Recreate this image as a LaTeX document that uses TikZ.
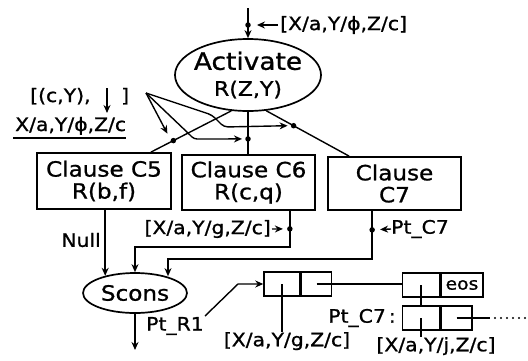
\documentclass[tikz,border=0pt]{standalone}
\usepackage{fontspec}
\setmainfont{DejaVu Sans}[FakeStretch=1.1, FakeBold=1]
\usetikzlibrary{shapes.geometric,calc,arrows.meta}
\begin{document}
\begin{tikzpicture}[x=1pt,y=-1pt,
  every node/.style={font=\fontsize{21}{22}\selectfont, inner sep=0pt},
  box/.style={draw, line width=1.7pt, align=center},
  oval/.style={draw, ellipse, line width=1.7pt, align=center},
  lbl/.style={font=\fontsize{18.5}{20}\selectfont},
  cell/.style={draw, line width=1.5pt, minimum height=24pt},
  conn/.style={line width=1.4pt},
  arr/.style={conn, -{Stealth[length=8pt,width=7pt]}},
  dot/.style={circle, fill, minimum size=5.5pt, inner sep=0pt},
]
\useasboundingbox (0,0) rectangle (528,360);

% main nodes
\node[oval, minimum width=146pt, minimum height=72pt] (act) at (248,75)
  {\makebox[0pt]{\fontsize{24}{26}\selectfont Activate}\\[4pt]\makebox[0pt]{\fontsize{20}{22}\selectfont R(Z,Y)}};
\node[box, minimum width=134pt, minimum height=56pt] (c5) at (104,181) {Clause C5\\R(b,f)};
\node[box, minimum width=133pt, minimum height=55pt] (c6) at (248.5,182.5) {Clause C6\\R(c,q)};
\node[box, minimum width=133pt, minimum height=53pt] (c7) at (394.5,183.5) {Clause\\C7};
\node[oval, minimum width=104pt, minimum height=40pt] (scons) at (135,293) {\makebox[0pt]{Scons}};

% input at top
\coordinate (in) at (248,8);
\draw[arr] (in) -- (act.north);
\node[dot] (d0) at (248,25) {};
\node[lbl, anchor=west] (l0) at (280,25) {[X/a,Y/ϕ,Z/c]};
\draw[arr, shorten <=2pt, shorten >=6pt] (l0.west) -- (d0);

% lines from Activate to clauses
\coordinate (t5) at ($(c5.north east)+(-21,0)$);
\coordinate (t6) at (act.south |- c6.north);
\coordinate (t7) at ($(c7.north west)+(22,0)$);
\draw[conn] (act.245) -- (t5);
\draw[conn] (act.south) -- (t6);
\draw[conn] (act.297) -- (t7);
\node[dot] (d1) at ($(act.245)!0.72!(t5)$) {};
\node[dot] (d2) at ($(act.south)!0.64!(t6)$) {};
\node[dot] (d3) at ($(act.297)!0.33!(t7)$) {};

% binding label and fan arrows
\node[lbl, anchor=base west] (fl1) at (30,102) {[(c,Y),};
\node[lbl, anchor=base west] (fl2) at (121,102) {]};
\coordinate (ds) at (107,88);
\coordinate (de) at (107,113);
\draw[arr] (ds) -- (de);
\node[lbl, anchor=base west] (ul) at (15,131) {X/a,Y/ϕ,Z/c};
\draw[conn] ($(ul.base west)+(-2,7)$) -- ($(ul.base east)+(0,7)$);
\coordinate (fan) at (146,93);
\draw[arr] (fan) -- ($(d1)+(-6,-7)$);
\draw[arr, rounded corners=3pt] (fan) -- (188,133) -- (194,139) -- ($(d2)+(-6,0)$);
\draw[arr, rounded corners=4pt] (fan) -- (212,115) -- (224,127) -- ($(d3)+(-6,0)$);

% clause outputs
\draw[arr] (c5.south -| scons.150) -- (scons.150);
\node[lbl, anchor=east] (nl) at (101,240) {Null};

\coordinate (o6) at ($(c6.south east)+(-26,0)$);
\coordinate (s6) at ($(scons.north)+(0,-25)$);
\draw[arr] (o6) |- (s6) -- (scons.north);
\node[dot] (d6) at ($(o6)+(0,18)$) {};
\node[lbl, anchor=east] (l6) at (271,229) {[X/a,Y/g,Z/c]};
\draw[arr, shorten <=1pt, shorten >=4pt] (l6.east) -- (d6);

\coordinate (o7) at ($(c7.south west)+(45,0)$);
\coordinate (s7) at ($(scons.north)+(33,-13)$);
\coordinate (e7) at ($(scons.north)+(33,4)$);
\draw[arr] (o7) |- (s7) -- (e7);
\node[dot] (d7) at ($(o7)+(0,19)$) {};
\node[lbl, anchor=west] (l7) at (391,229) {Pt\_C7};
\draw[arr, shorten >=5pt] (l7.west) -- (d7);

% Scons output
\coordinate (out) at (135,350);
\draw[arr] (scons.south) -- (out);
\node[lbl, anchor=west] (pr) at (146,326) {Pt\_R1};

% list cells
\node[cell, minimum width=36pt] (c1a) at (282,284) {};
\node[cell, minimum width=30pt, anchor=west] (c1b) at (c1a.east) {};
\node[cell, minimum width=37pt] (c2a) at (421,285) {};
\node[cell, minimum width=42pt, anchor=west, font=\fontsize{17}{18}\selectfont] (c2b) at (c2a.east) {eos};
\node[cell, minimum width=37pt] (c3a) at (421,318) {};
\node[cell, minimum width=31pt, anchor=west] (c3b) at (c3a.east) {};

\coordinate (pb) at (205,316);
\coordinate (pk) at (238,284);
\draw[arr] (pb) -- (pk) -- (c1a.west);

\node[lbl, anchor=north] (lb1) at (287,332) {[X/a,Y/g,Z/c]};
\draw[conn] (c1a.center) -- (c1a.center |- lb1.north);
\draw[conn] (c1b.center) -- (c1b.center -| c2a.west);
\draw[conn] (c2a.center) -- (c3a.north);
\node[lbl, anchor=north] (lb2) at (436,337) {[X/a,Y/j,Z/c]};
\draw[conn] (c3a.center) -- (c3a.center |- lb2.north);
\node[lbl, anchor=east] (lc7) at (396,318) {Pt\_C7\,:};
\coordinate (e3) at ($(c3b.center)+(33,0)$);
\draw[conn] (c3b.center) -- (e3);
\coordinate (f1) at (495,318);
\coordinate (f2) at (525,318);
\draw[line width=2.2pt, line cap=round, dash pattern=on 0pt off 6pt] (f1) -- (f2);
\end{tikzpicture}
\end{document}
